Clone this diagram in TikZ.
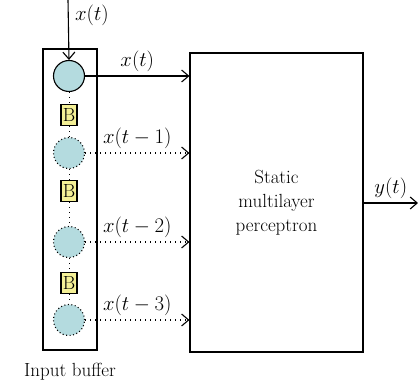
\documentclass[tikz,border=0pt]{standalone}
\usepackage{fontspec}
\DeclareMathSizes{19}{20.74}{14.4}{10}
\usetikzlibrary{positioning,arrows.meta}
\definecolor{cellfill}{RGB}{180,219,223}
\definecolor{delayfill}{RGB}{244,240,150}
\tikzset{
  cell/.style={circle, draw, fill=cellfill, minimum size=31pt, inner sep=0pt},
  oldcell/.style={cell, dash pattern=on 1pt off 2.5pt},
  delay/.style={draw, fill=delayfill, minimum width=16pt, minimum height=21pt, inner sep=1pt},
  tap/.style={dash pattern=on 1pt off 4pt},
  >={Straight Barb[length=7pt, width=12pt]},
}
\begin{document}
\begin{tikzpicture}[x=1pt, y=-1pt, line width=1.1pt, font=\fontsize{19}{24}\selectfont]
\useasboundingbox (0,0) rectangle (418,387);
% input buffer with the delay line
\node[draw, minimum width=54pt, minimum height=301pt] (buf) at (70,199.5) {};
\node[below=9pt of buf] (buflabel) {Input buffer};
\node[cell] (c0) at (69,76) {};
\node[delay] (b1) at (69,115) {B};
\node[oldcell] (c1) at (69,153) {};
\node[delay] (b2) at (69,191) {B};
\node[oldcell] (c2) at (69,242) {};
\node[delay] (b3) at (69,283) {B};
\node[oldcell] (c3) at (69,320) {};
\draw[tap, line width=0.9pt] (c0) -- (b1) -- (c1) -- (b2) -- (c2) -- (b3) -- (c3);
% the network itself
\node[draw, minimum width=173pt, minimum height=299pt, align=center] (mlp) at (276.5,202.5)
  {Static\\multilayer\\perceptron};
\coordinate (in) at (68,0);
\coordinate (out) at (418,203);
\draw[->] (in) -- (c0.north) node[pos=0.25, right=3pt] {$x(t)$};
\draw[->] (c0.east) -- (mlp.west |- c0) node[midway, above] {$x(t)$};
\draw[->, tap] (c1.east) -- (mlp.west |- c1) node[midway, above] {$x(t-1)$};
\draw[->, tap] (c2.east) -- (mlp.west |- c2) node[midway, above] {$x(t-2)$};
\draw[->, tap] (c3.east) -- (mlp.west |- c3) node[midway, above] {$x(t-3)$};
\draw[->] (mlp.east |- out) -- (out) node[midway, above] {$y(t)$};
\end{tikzpicture}
\end{document}
